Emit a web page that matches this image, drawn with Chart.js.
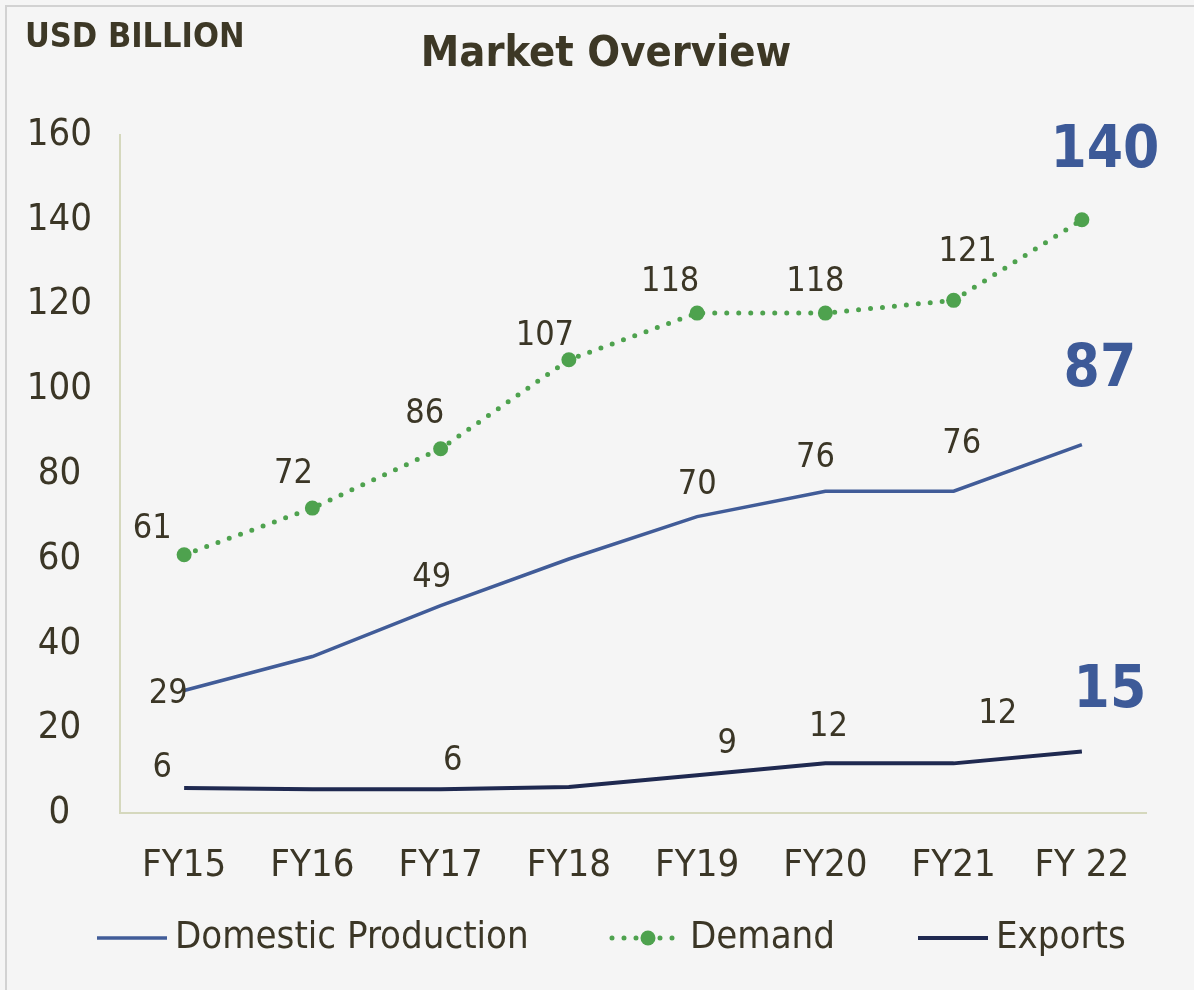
<!DOCTYPE html>
<html>
<head>
<meta charset="utf-8">
<title>Market Overview</title>
<script src="https://cdn.jsdelivr.net/npm/chart.js@4.4.1/dist/chart.umd.min.js"></script>
<style>
  html, body { margin: 0; padding: 0; background: #ffffff; }
  #box { width: 1194px; height: 990px; }
</style>
</head>
<body>
<div id="box"><canvas id="chart" width="1194" height="990"></canvas></div>
<script>
// data
const categories = ['FY15', 'FY16', 'FY17', 'FY18', 'FY19', 'FY20', 'FY21', 'FY 22'];
const domestic = [29, 37, 49, 60, 70, 76, 76, 87];
const demand = [61, 72, 86, 107, 118, 118, 121, 140];
const exportsVals = [6, 5.7, 5.7, 6.2, 9, 11.8, 11.8, 14.6];
const yTicks = [0, 20, 40, 60, 80, 100, 120, 140, 160];

// which value labels the original shows
const domesticShown = ['29', null, '49', null, '70', '76', '76', '87'];
const demandShown = ['61', '72', '86', '107', '118', '118', '121', '140'];
const exportsShown = ['6', null, '6', null, '9', '12', '12', '15'];

// label nudges (px) relative to the point, as in the original
const domesticOff = [[-16, 4], null, [-9, -27], null, [0, -31], [-10, -33], [8, -47], [18, -74]];
const demandOff = [[-32, -26], [-19, -34], [-16, -35], [-24, -24], [-27, -31], [-10, -31], [14, -48], [23, -68]];
const exportsOff = [[-22, -20], null, [12, -28], null, [30, -31], [3, -36], [44, -49], [28, -60]];

// legend row: where each sample line starts
const legendX = [97, 612, 918];
const legendY = 938;

const FONT = "'DejaVu Sans Condensed', 'DejaVu Sans', sans-serif";
const TXT = '#3b3626';
const GREEN = '#4ea24e';

const frame = {
    id: 'frame',
    beforeDraw(chart) {
        const ctx = chart.ctx;
        ctx.save();
        ctx.fillStyle = '#f5f5f5';
        ctx.fillRect(0, 0, chart.width, chart.height);
        ctx.strokeStyle = '#d2d2d2';
        ctx.lineWidth = 2;
        ctx.strokeRect(6, 6, chart.width + 10, chart.height + 10);
        // headings
        ctx.fillStyle = '#3d3826';
        ctx.textBaseline = 'middle';
        ctx.textAlign = 'left';
        ctx.font = 'bold 34px ' + FONT;
        ctx.fillText('USD BILLION', 25, 38);
        ctx.textAlign = 'center';
        ctx.font = 'bold 43px ' + FONT;
        ctx.fillText('Market Overview', 606, 55);
        ctx.restore();
    }
};

const valueLabels = {
    id: 'valueLabels',
    afterDatasetsDraw(chart) {
        const ctx = chart.ctx;
        ctx.save();
        ctx.textAlign = 'center';
        ctx.textBaseline = 'middle';
        chart.data.datasets.forEach((ds, i) => {
            const meta = chart.getDatasetMeta(i);
            meta.data.forEach((pt, j) => {
                const txt = ds.shown[j];
                if (!txt) return;
                const off = ds.off[j];
                const last = j === ds.data.length - 1;
                ctx.font = last ? 'bold 58px ' + FONT : '34px ' + FONT;
                ctx.fillStyle = last ? '#3d5a98' : TXT;
                ctx.fillText(txt, pt.x + off[0], pt.y + off[1]);
            });
        });
        ctx.restore();
    },
    afterDraw(chart) {
        // legend drawn by hand: line sample + name, Demand gets its dot
        const ctx = chart.ctx;
        ctx.save();
        ctx.font = '38px ' + FONT;
        ctx.textBaseline = 'middle';
        ctx.textAlign = 'left';
        chart.data.datasets.forEach((ds, i) => {
            const x0 = legendX[i];
            ctx.strokeStyle = ds.borderColor;
            ctx.lineWidth = ds.borderWidth;
            ctx.lineCap = ds.borderCapStyle || 'butt';
            ctx.setLineDash(ds.borderDash || []);
            ctx.beginPath();
            ctx.moveTo(x0, legendY);
            ctx.lineTo(x0 + 70, legendY);
            ctx.stroke();
            if (ds.pointRadius) {
                ctx.fillStyle = ds.pointBackgroundColor;
                ctx.beginPath();
                ctx.arc(x0 + 36, legendY, ds.pointRadius, 0, Math.PI * 2);
                ctx.fill();
            }
            ctx.fillStyle = TXT;
            ctx.fillText(ds.label, x0 + 78, legendY);
        });
        ctx.restore();
    }
};

new Chart(document.getElementById('chart'), {
    type: 'line',
    data: {
        labels: categories,
        datasets: [
            {
                label: 'Domestic Production',
                data: domestic,
                shown: domesticShown,
                off: domesticOff,
                borderColor: '#415c98',
                borderWidth: 3.5,
                pointRadius: 0,
                tension: 0
            },
            {
                label: 'Demand',
                data: demand,
                shown: demandShown,
                off: demandOff,
                borderColor: GREEN,
                backgroundColor: GREEN,
                borderWidth: 5,
                borderDash: [0, 12],
                borderCapStyle: 'round',
                pointRadius: 7.5,
                pointBorderWidth: 0,
                pointBackgroundColor: GREEN,
                tension: 0
            },
            {
                label: 'Exports',
                data: exportsVals,
                shown: exportsShown,
                off: exportsOff,
                borderColor: '#1f2950',
                borderWidth: 4,
                pointRadius: 0,
                tension: 0
            }
        ]
    },
    options: {
        responsive: false,
        animation: false,
        layout: { padding: { left: 0, right: 48, top: 135, bottom: 71 } },
        plugins: {
            legend: { display: false },
            tooltip: { enabled: false }
        },
        scales: {
            x: {
                offset: true,
                grid: { display: false, drawTicks: false },
                border: { color: '#d5d8bd', width: 2 },
                ticks: { color: TXT, padding: 30, font: { family: FONT, size: 38 } }
            },
            y: {
                min: 0,
                max: 160,
                afterBuildTicks(scale) { scale.ticks = yTicks.map(v => ({ value: v })); },
                afterFit(scale) { scale.width = 120; },
                grid: { display: false, drawTicks: false },
                border: { color: '#d5d8bd', width: 2 },
                ticks: { color: TXT, padding: 28, crossAlign: 'center', font: { family: FONT, size: 38 } }
            }
        }
    },
    plugins: [frame, valueLabels]
});
</script>
</body>
</html>
